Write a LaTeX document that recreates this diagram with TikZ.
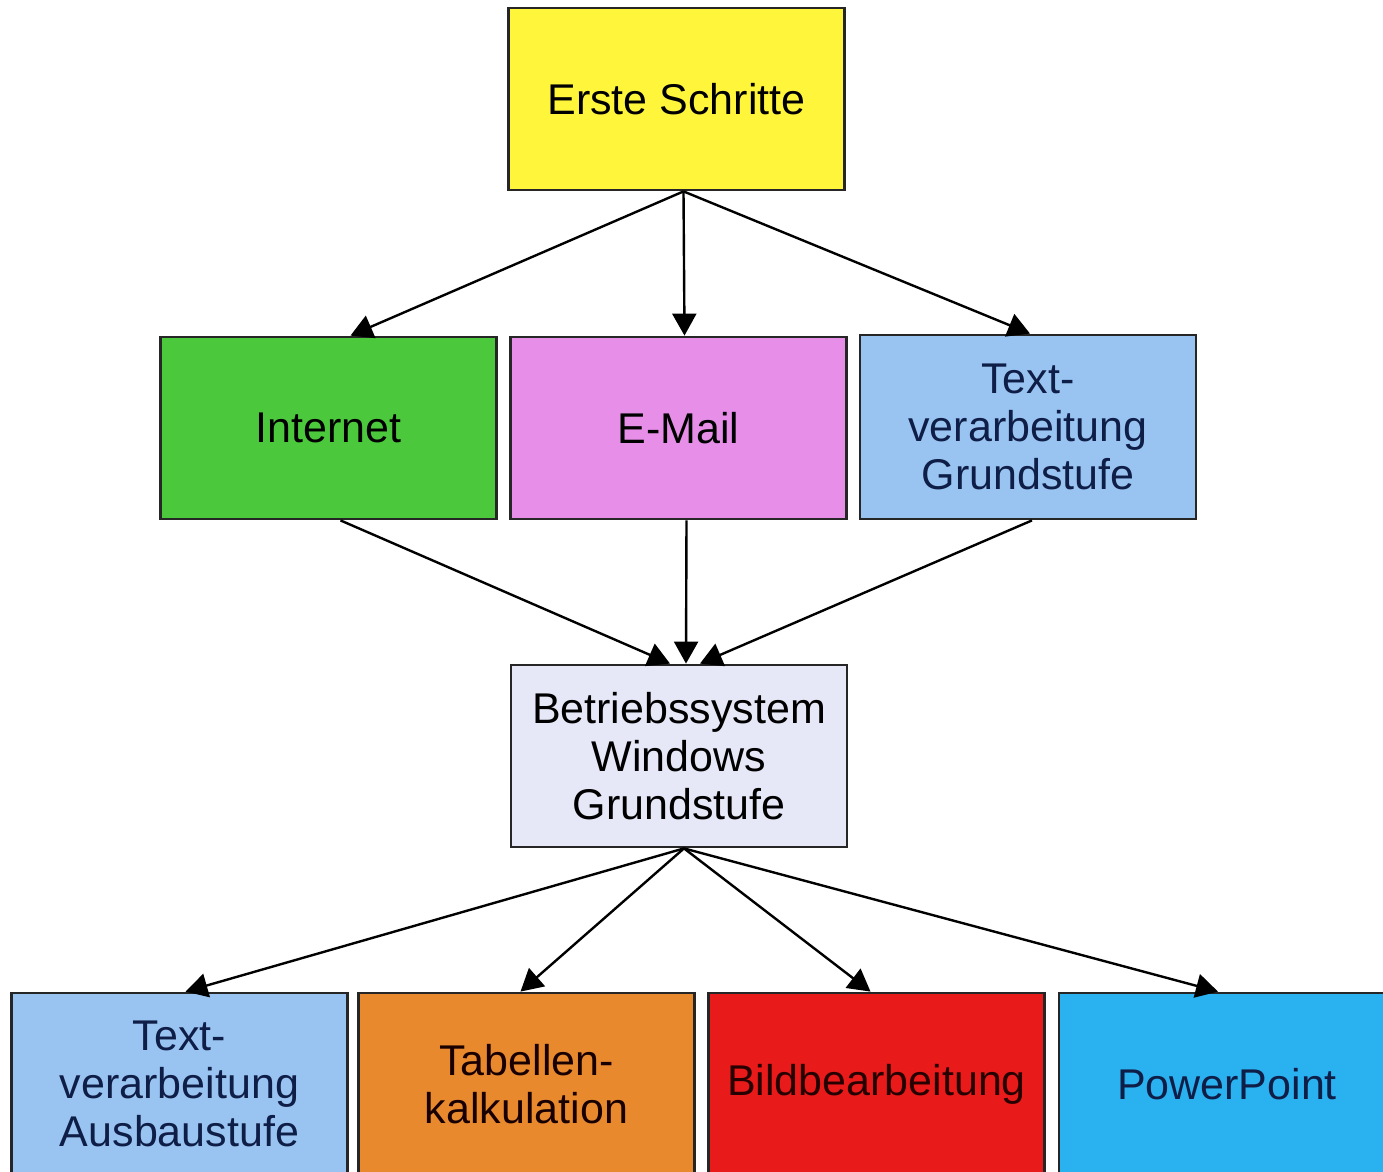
\documentclass[tikz,border=0pt]{standalone}
\usepackage{fontspec}
\setmainfont{Liberation Sans}
\usetikzlibrary{arrows.meta}
\definecolor{cyellow}{RGB}{255,246,60}
\definecolor{cgreen}{RGB}{76,200,60}
\definecolor{cpink}{RGB}{230,142,232}
\definecolor{clblue}{RGB}{153,196,242}
\definecolor{clav}{RGB}{230,232,248}
\definecolor{corange}{RGB}{232,137,46}
\definecolor{cred}{RGB}{232,26,26}
\definecolor{cblue}{RGB}{41,177,240}
\definecolor{cnavy}{RGB}{15,30,70}
\tikzset{
  box/.style={draw=black!85, line width=1.4pt, minimum width=168pt, minimum height=91pt,
    inner sep=0pt, align=center, font=\fontsize{21.5pt}{24pt}\selectfont},
  conn/.style={line width=1.2pt, -{Triangle[length=11pt,width=12pt]}}
}
\begin{document}
\begin{tikzpicture}[x=0.5pt,y=-0.5pt]
\useasboundingbox (0,0) rectangle (1383,1172);
\fill[white] (0,0) rectangle (1383,1172);
\begin{scope}
\clip (0,0) rectangle (1383,1172);
\node[box, fill=cyellow] (erste) at (676.5,99) {Erste Schritte};
\node[box, fill=cgreen] (inet) at (328.5,428) {Internet};
\node[box, fill=cpink] (mail) at (678.5,428) {E-Mail};
\node[box, fill=clblue, text=cnavy, minimum height=92pt] (tvg) at (1028,427) {Text-\\verarbeitung\\Grundstufe};
\node[box, fill=clav] (bs) at (679,756) {Betriebssystem\\Windows\\Grundstufe};
\node[box, fill=clblue, text=cnavy] (tva) at (179.5,1084) {Text-\\verarbeitung\\Ausbaustufe};
\node[box, fill=corange, text=black!90!red] (tab) at (526.5,1084) {Tabellen-\\kalkulation};
\node[box, fill=cred, text=black!85!red] (bild) at (876.5,1084) {Bildbearbeitung};
\node[box, fill=cblue, text=cnavy] (pp) at (1227,1084) {PowerPoint};
\end{scope}
\draw[conn] ([xshift=3.5pt]erste.south) -- ([xshift=11pt]inet.north);
\draw[conn] ([xshift=3.5pt]erste.south) -- ([xshift=3pt]mail.north);
\draw[conn] ([xshift=3.5pt]erste.south) -- ([xshift=1pt]tvg.north);
\draw[conn] ([xshift=6pt]inet.south) -- ([xshift=-4.5pt]bs.north);
\draw[conn] ([xshift=4pt]mail.south) -- ([xshift=3.5pt]bs.north);
\draw[conn] ([xshift=2pt]tvg.south) -- ([xshift=10.5pt]bs.north);
\draw[conn] ([xshift=2.5pt]bs.south) -- ([xshift=3pt]tva.north);
\draw[conn] ([xshift=2.5pt]bs.south) -- ([xshift=-3pt]tab.north);
\draw[conn] ([xshift=2.5pt]bs.south) -- ([xshift=-3pt]bild.north);
\draw[conn] ([xshift=2.5pt]bs.south) -- ([xshift=-4.5pt]pp.north);
\end{tikzpicture}
\end{document}
